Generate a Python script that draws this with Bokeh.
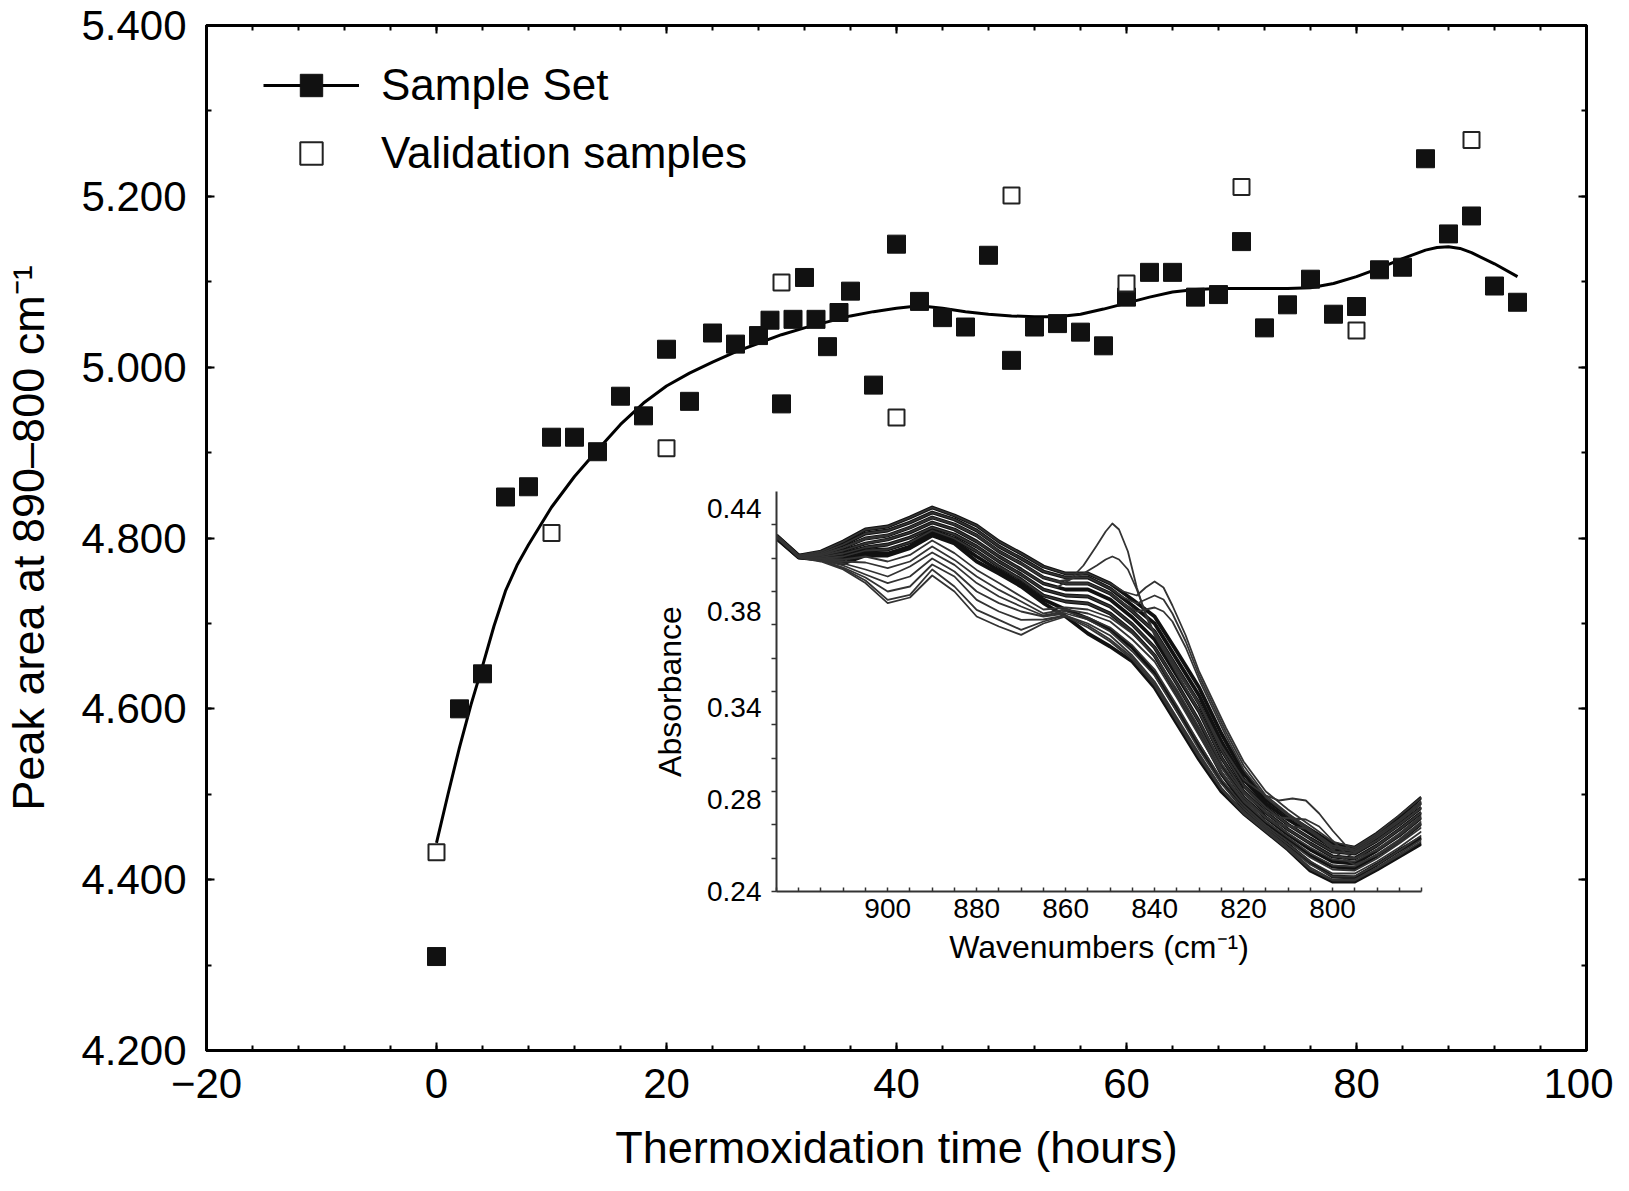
from bokeh.plotting import figure
from bokeh.models import (Range1d, LinearAxis, SingleIntervalTicker, FixedTicker,
                          NumeralTickFormatter, Legend, LegendItem, CustomLabelingPolicy)
from bokeh.layouts import column
from bokeh.embed import file_html
from bokeh.resources import INLINE

FONT = "Liberation Sans"

# ---- main chart data ----
sample_hours = [0, 2, 4, 6, 8, 10, 12, 14, 16, 18, 20, 22, 24, 26, 28, 29, 30, 31, 32, 33,
                34, 35, 36, 38, 40, 42, 44, 46, 48, 50, 52, 54, 56, 58, 60, 62, 64, 66, 68,
                70, 72, 74, 76, 78, 80, 82, 84, 86, 88, 90, 92, 94]
sample_area = [4.310, 4.600, 4.641, 4.848, 4.860, 4.918, 4.918, 4.901, 4.966, 4.943, 5.021,
               4.960, 5.040, 5.027, 5.037, 5.055, 4.957, 5.056, 5.105, 5.056, 5.024, 5.064,
               5.089, 4.979, 5.144, 5.077, 5.058, 5.047, 5.131, 5.008, 5.047, 5.051, 5.041,
               5.025, 5.082, 5.111, 5.111, 5.082, 5.085, 5.147, 5.046, 5.073, 5.103, 5.062,
               5.071, 5.114, 5.117, 5.244, 5.156, 5.177, 5.095, 5.076]

validation_hours = [0, 10, 20, 30, 40, 50, 60, 70, 80, 90]
validation_area = [4.432, 4.806, 4.905, 5.099, 4.941, 5.201, 5.098, 5.211, 5.043, 5.266]

fit_hours = [0, 1, 2, 3, 4, 5, 6, 7, 8, 10, 12, 14, 16, 18, 20, 22, 24, 26, 28, 30, 32,
             34, 36, 38, 40, 42, 44, 46, 48, 50, 52, 54, 56, 58, 60, 62, 64, 66, 68, 70,
             72, 74, 76, 78, 80, 82, 84, 86, 87, 88, 89, 90, 92, 94]
fit_area = [4.443, 4.500, 4.555, 4.605, 4.650, 4.697, 4.738, 4.768, 4.792, 4.836, 4.872,
            4.903, 4.933, 4.958, 4.978, 4.993, 5.006, 5.018, 5.028, 5.038, 5.046, 5.053,
            5.060, 5.065, 5.069, 5.072, 5.069, 5.065, 5.062, 5.060, 5.059, 5.059, 5.062,
            5.068, 5.075, 5.082, 5.088, 5.091, 5.092, 5.092, 5.092, 5.092, 5.093, 5.098,
            5.106, 5.116, 5.127, 5.137, 5.140, 5.141, 5.139, 5.134, 5.121, 5.106]

# ---- inset spectra ----
wn = [925, 920, 915, 910, 905, 900, 895, 890, 885, 880, 875, 870, 865, 860, 855,
      850, 845, 840, 835, 830, 825, 820, 815, 810, 805, 800, 795, 790, 785, 780]

dense_1 = [.418, .408, .410, .415, .421, .4225, .427, .432, .428, .423, .415, .409, .4025, .399, .399,
           .394, .386, .3775, .360, .342, .319, .299, .286, .278, .271, .264, .262, .269, .2775, .287]
dense_2 = [.4178, .4078, .4092, .4135, .419, .4205, .4245, .4295, .426, .4205, .4125, .4065, .400, .397, .397,
           .3915, .383, .374, .356, .338, .315, .296, .284, .276, .269, .262, .2605, .267, .2755, .2845]
dense_3 = [.4176, .4076, .4085, .412, .4165, .418, .422, .427, .4235, .418, .410, .404, .397, .394, .394,
           .389, .380, .370, .352, .334, .311, .293, .282, .2735, .2665, .260, .259, .2655, .2735, .282]
dense_4 = [.4174, .4075, .408, .4105, .414, .416, .4195, .4245, .421, .415, .4075, .401, .394, .391, .391,
           .386, .377, .366, .348, .330, .307, .290, .2795, .271, .264, .2575, .2565, .263, .271, .2795]
dense_5 = [.4172, .4074, .4072, .409, .412, .4135, .417, .422, .4185, .4125, .405, .3985, .391, .388, .3875,
           .3825, .3735, .362, .344, .325, .303, .287, .277, .2685, .261, .255, .254, .2605, .268, .277]
dense_6 = [.417, .4072, .4066, .4075, .4105, .411, .4145, .4205, .4165, .410, .4025, .396, .388, .385, .384,
           .379, .370, .358, .339, .320, .299, .284, .2745, .266, .258, .2525, .2515, .258, .265, .274]
dense_7 = [.4168, .4071, .4062, .406, .409, .409, .4125, .419, .415, .4075, .4005, .394, .386, .381, .3765,
           .371, .362, .349, .331, .313, .295, .2815, .272, .2635, .2545, .2475, .247, .2535, .2605, .267]
dense_8 = [.4165, .407, .406, .404, .408, .408, .4117, .418, .414, .405, .399, .3925, .3842, .3775, .369,
           .3625, .355, .342, .324, .306, .290, .279, .270, .261, .2505, .245, .245, .251, .2575, .264]

lower_1 = [.418, .408, .4065, .406, .4075, .405, .4083, .4155, .4092, .4008, .3942, .3875, .381, .382, .381,
           .377, .369, .358, .341, .322, .302, .287, .277, .269, .262, .256, .255, .261, .269, .278]
lower_2 = [.418, .4078, .4062, .405, .4045, .4017, .405, .4125, .4058, .3975, .3908, .385, .379, .381, .379,
           .375, .366, .355, .337, .318, .299, .285, .275, .267, .259, .253, .2525, .2585, .266, .275]
lower_3 = [.418, .4077, .406, .404, .401, .3975, .4025, .4095, .4033, .3942, .3875, .3825, .378, .380, .377,
           .372, .363, .351, .333, .314, .296, .283, .273, .265, .257, .251, .2505, .2565, .264, .272]
lower_4 = [.418, .4075, .4058, .403, .3985, .3942, .3975, .4065, .400, .390, .3842, .380, .3775, .379, .376,
           .370, .360, .348, .330, .311, .294, .2815, .272, .2635, .255, .249, .249, .255, .262, .270]
lower_5 = [.4178, .4074, .4056, .402, .397, .390, .3925, .4035, .3975, .3858, .380, .3758, .376, .378, .374,
           .368, .358, .345, .327, .309, .292, .280, .271, .262, .2535, .2475, .2475, .2535, .2605, .268]
lower_6 = [.4175, .4072, .4054, .4015, .3955, .3858, .3883, .401, .3925, .3808, .3758, .3708, .375, .378, .373,
           .366, .357, .344, .326, .308, .2915, .2795, .2705, .2615, .252, .246, .246, .252, .259, .266]
lower_7 = [.4175, .407, .405, .401, .3942, .3842, .387, .398, .390, .3775, .3725, .3683, .374, .3775, .372,
           .365, .356, .343, .325, .307, .291, .279, .270, .261, .251, .2455, .2455, .2515, .258, .265]

peak_wn = [925, 920, 915, 910, 905, 900, 895, 890, 885, 880, 875, 870, 865, 862, 859, 856, 853, 851,
           849.5, 848, 846, 844, 842, 840, 837, 834, 830, 825, 820, 815, 810, 805, 800, 795, 790, 785, 780]
peak_tall = [.4174, .4075, .408, .4105, .414, .416, .4195, .4245, .421, .415, .4075, .401, .394, .392, .396,
             .403, .413, .420, .424, .421, .410, .392, .378, .368, .357, .345, .330, .307, .290, .2795, .271,
             .264, .2575, .2565, .263, .271, .2795]
peak_short = [.4176, .4076, .4085, .412, .4165, .418, .422, .427, .4235, .418, .410, .404, .397, .395, .396,
              .399, .403, .406, .4075, .406, .401, .391, .379, .369, .358, .347, .334, .311, .293, .282,
              .2735, .2665, .260, .259, .2655, .2735, .282]

bump_wn = [925, 920, 915, 910, 905, 900, 895, 890, 885, 880, 875, 870, 865, 860, 855, 850, 847, 844,
           842, 840, 838, 836, 833, 830, 827, 824, 820, 815, 810, 805, 800, 795, 790, 785, 780]
bump_1 = [.418, .408, .410, .415, .421, .4225, .427, .432, .428, .423, .415, .409, .4025, .399, .399, .394,
          .390, .388, .392, .395, .392, .383, .368, .350, .336, .322, .305, .290, .281, .273, .265, .262,
          .269, .278, .287]
bump_2 = [.4178, .4078, .4092, .4135, .419, .4205, .4245, .4295, .426, .4205, .4125, .4065, .400, .397, .397,
          .3915, .387, .384, .386, .388, .386, .379, .365, .348, .334, .320, .303, .288, .279, .271, .263,
          .261, .268, .276, .285]
bump_3 = [.4176, .4076, .4085, .412, .4165, .418, .422, .427, .4235, .418, .410, .404, .397, .394, .394,
          .389, .384, .380, .381, .382, .380, .375, .362, .346, .332, .318, .301, .287, .278, .270, .262,
          .260, .267, .275, .284]

shoulder_wn = [925, 920, 915, 910, 905, 900, 895, 890, 885, 880, 875, 870, 865, 860, 855, 850, 845,
               840, 835, 830, 825, 820, 815, 812, 809, 806, 803, 800, 797, 795, 790, 785, 780]
shoulder_1 = [.4176, .4076, .4085, .412, .4165, .418, .422, .427, .4235, .418, .410, .404, .397, .394,
              .394, .389, .380, .370, .352, .334, .313, .296, .288, .2855, .2865, .2855, .279, .2705,
              .263, .2595, .2655, .2735, .282]
shoulder_2 = [.4172, .4074, .4072, .409, .412, .4135, .417, .422, .4185, .4125, .405, .3985, .391, .388,
              .3875, .3825, .3735, .362, .344, .325, .304, .289, .280, .277, .2765, .276, .2725, .2655,
              .259, .2565, .2605, .268, .277]
shoulder_3 = [.417, .4072, .4066, .4075, .4105, .411, .4145, .4205, .4165, .410, .4025, .396, .388, .385,
              .384, .379, .370, .358, .339, .320, .300, .2855, .277, .2735, .2725, .2715, .267, .261,
              .2555, .2535, .258, .265, .274]

inset_wn_ticks = [900, 880, 860, 840, 820, 800]
inset_abs_ticks = [0.24, 0.286, 0.332, 0.380, 0.4315]
inset_abs_labels = ["0.24", "0.28", "0.34", "0.38", "0.44"]


def style_axis(ax, ticker, font_size):
    ax.ticker = ticker
    ax.axis_line_width = 3
    ax.axis_line_color = "black"
    ax.major_tick_in = 8
    ax.major_tick_out = 0
    ax.minor_tick_in = 5
    ax.minor_tick_out = 0
    ax.major_tick_line_width = 2
    ax.minor_tick_line_width = 2
    ax.major_label_text_font = FONT
    ax.major_label_text_font_size = font_size
    ax.major_label_text_color = "black"
    ax.axis_label_text_font = FONT
    ax.axis_label_text_font_style = "normal"
    ax.axis_label_text_font_size = "45px"
    ax.axis_label_text_color = "black"


# ---- main figure ----
p = figure(width=1613, height=1175, x_range=Range1d(-20, 100), y_range=Range1d(4.2, 5.4),
           output_backend="svg", toolbar_location=None,
           min_border_left=197, min_border_right=27, min_border_top=25, min_border_bottom=123)
p.grid.visible = False
p.outline_line_color = "black"
p.outline_line_width = 3

x_ticker = SingleIntervalTicker(interval=20, num_minor_ticks=5)
y_ticker = SingleIntervalTicker(interval=0.2, num_minor_ticks=2)

style_axis(p.xaxis[0], x_ticker, "42px")
style_axis(p.yaxis[0], y_ticker, "42px")
p.xaxis.major_label_overrides = {-20: "\u221220"}
p.xaxis.major_label_standoff = 18
p.xaxis.axis_label = "Thermoxidation time (hours)"
p.xaxis.axis_label_standoff = 21
p.yaxis.formatter = NumeralTickFormatter(format="0.000")
p.yaxis.major_label_standoff = 20
p.yaxis.axis_label = "Peak area at 890\u2013800 cm\u207b\u00b9"
p.yaxis.axis_label_standoff = 24

no_labels = CustomLabelingPolicy(code="for (const i of indices) indices.unset(i); return indices")
for side in ("above", "right"):
    ax = LinearAxis()
    style_axis(ax, x_ticker if side == "above" else y_ticker, "1px")
    ax.major_label_policy = no_labels
    ax.major_label_standoff = 0
    p.add_layout(ax, side)

fit = p.line(fit_hours, fit_area, line_color="black", line_width=3)
filled = p.scatter(sample_hours, sample_area, marker="square", size=18,
                   fill_color="#111111", line_color="#111111")
hollow = p.scatter(validation_hours, validation_area, marker="square", size=16,
                   fill_color="white", line_color="#222222", line_width=2)

legend = Legend(items=[LegendItem(label="Sample Set", renderers=[fit, filled]),
                       LegendItem(label="Validation samples", renderers=[hollow])],
                location=(57, 869), border_line_color=None, background_fill_alpha=0,
                padding=0, margin=0, spacing=12, glyph_width=96, glyph_height=56,
                label_standoff=22, label_text_font=FONT, label_text_font_size="44px",
                label_text_color="black", label_text_baseline="middle")
p.add_layout(legend)

# ---- inset figure ----
q = figure(width=878, height=515, x_range=Range1d(925, 780), y_range=Range1d(0.24, 0.44),
           output_backend="svg", toolbar_location=None,
           min_border_left=146, min_border_right=11, min_border_top=31, min_border_bottom=84,
           background_fill_alpha=0, border_fill_alpha=0, outline_line_color=None)
q.grid.visible = False

for ax in (q.xaxis[0], q.yaxis[0]):
    ax.axis_line_color = "#333333"
    ax.axis_line_width = 2
    ax.major_tick_in = 0
    ax.major_tick_out = 0
    ax.minor_tick_line_color = "#333333"
    ax.minor_tick_line_width = 1.5
    ax.major_label_text_font = FONT
    ax.major_label_text_font_size = "28px"
    ax.major_label_text_color = "black"
    ax.axis_label_text_font = FONT
    ax.axis_label_text_font_style = "normal"
    ax.axis_label_text_font_size = "32px"
    ax.axis_label_text_color = "black"

q.xaxis.ticker = FixedTicker(ticks=inset_wn_ticks, minor_ticks=list(range(925, 779, -5)))
q.xaxis.minor_tick_in = 4
q.xaxis.minor_tick_out = 0
q.xaxis.major_label_standoff = 7
q.xaxis.axis_label = "Wavenumbers (cm\u207b\u00b9)"
q.xaxis.axis_label_standoff = 8

q.yaxis.ticker = FixedTicker(ticks=inset_abs_ticks,
                             minor_ticks=[0.24 + k * 0.2 / 12 for k in range(13)])
q.yaxis.major_label_overrides = dict(zip(inset_abs_ticks, inset_abs_labels))
q.yaxis.minor_tick_in = 0
q.yaxis.minor_tick_out = 5
q.yaxis.major_label_standoff = 10
q.yaxis.axis_label = "Absorbance"
q.yaxis.axis_label_standoff = 16

for curve in (dense_1, dense_2, dense_3, dense_4, dense_5, dense_6, dense_7, dense_8):
    q.line(wn, curve, line_color="#111111", line_width=3.8, line_join="round")
for curve in (lower_1, lower_2, lower_3, lower_4, lower_5, lower_6, lower_7):
    q.line(wn, curve, line_color="#333333", line_width=1.8, line_join="round")
for curve in (peak_tall, peak_short):
    q.line(peak_wn, curve, line_color="#333333", line_width=1.8, line_join="round")
for curve in (bump_1, bump_2, bump_3):
    q.line(bump_wn, curve, line_color="#333333", line_width=1.8, line_join="round")
for curve in (shoulder_1, shoulder_2, shoulder_3):
    q.line(shoulder_wn, curve, line_color="#333333", line_width=1.8, line_join="round")

q.margin = (-715, 0, 0, 570)

layout = column(p, q)
open("out.html", "w").write(file_html(layout, INLINE))
